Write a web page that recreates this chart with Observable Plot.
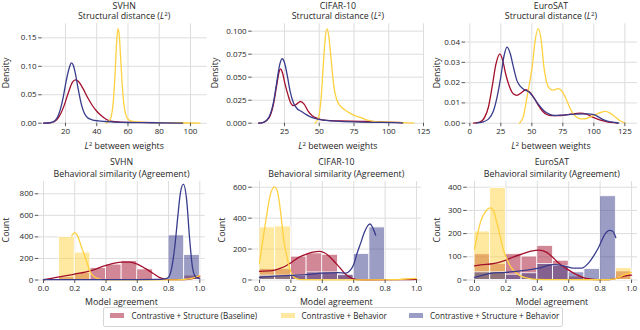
<!DOCTYPE html>
<html><head><meta charset="utf-8">
<script src="https://cdn.jsdelivr.net/npm/d3@7"></script>
<script src="https://cdn.jsdelivr.net/npm/@observablehq/plot@0.6"></script>
<style>
body{margin:0;background:#fff;}
#c{position:relative;width:640px;height:330px;font-family:'Open Sans',sans-serif;color:#262626;overflow:hidden;background:#fff}
.t{position:absolute;font-size:8.8px;white-space:nowrap;transform:translate(-50%,-50%);line-height:1}
.r{position:absolute;font-size:8.8px;white-space:nowrap;transform:translate(-50%,-50%) rotate(-90deg);line-height:1}
.p{position:absolute}
.sup{font-size:70%;vertical-align:3px}
#leg{position:absolute;left:103px;top:307px;width:460px;height:20px;border:1px solid #d6d6d6;border-radius:2px;box-sizing:border-box}
.lp{position:absolute;width:14px;height:5px}
.lt{position:absolute;font-size:8.1px;white-space:nowrap;line-height:1;transform:translateY(-50%)}
</style></head><body><div id="c"></div><script>
// ---------- colours ----------
const seriesNames = ["Contrastive + Structure (Baseline)", "Contrastive + Behavior", "Contrastive + Structure + Behavior"];
const seriesColors = ["#a30f2c", "#ffd140", "#393c8c"];

// ---------- top row: L2 distance KDE curves [L2, density] ----------
const svhnL2Base = [[6,0],[10,0.0005],[13,0.003],[16,0.012],[19,0.03],[22,0.055],[24.5,0.072],[26.4,0.076],[28,0.074],[31,0.062],[34,0.046],[37,0.032],[40,0.021],[43,0.013],[46,0.007],[50,0.003],[55,0.002],[65,0.0013],[80,0.001],[95,0.0004]];
const svhnL2Behav = [[46,0],[48.5,0.006],[50.5,0.035],[51.8,0.09],[52.8,0.145],[53.6,0.166],[54.4,0.155],[55.3,0.115],[56.5,0.06],[58,0.022],[60,0.007],[63,0.003],[70,0.0015],[80,0.001],[95,0.0008],[106,0.0001]];
const svhnL2Struct = [[6,0],[10,0.0008],[13,0.004],[16,0.018],[18.5,0.045],[20.5,0.075],[22.5,0.098],[23.8,0.106],[25,0.102],[26.5,0.085],[28,0.062],[30,0.035],[32,0.018],[34,0.01],[37,0.006],[41,0.004],[46,0.003],[52,0.002],[60,0.0012],[75,0.0008],[95,0.0003]];

const cifarL2Base = [[6.5,0],[10,0.001],[14,0.006],[17,0.02],[19.5,0.042],[21.2,0.056],[22.2,0.059],[23.5,0.055],[25.5,0.042],[27.5,0.031],[29.5,0.022],[31.5,0.019],[34,0.021],[36.5,0.0236],[39,0.021],[42,0.013],[45,0.008],[49,0.005],[55,0.003],[65,0.0025],[80,0.002],[95,0.0015],[110,0.0005]];
const cifarL2Behav = [[47,0],[49.5,0.006],[51.5,0.03],[53,0.065],[54.5,0.095],[55.7,0.1025],[57,0.093],[58.5,0.07],[60.5,0.04],[62.5,0.026],[65,0.019],[68,0.015],[72,0.011],[76,0.008],[80,0.006],[84,0.0035],[90,0.0018],[100,0.0012],[110,0.0006],[118,0.0001]];
const cifarL2Struct = [[6.5,0],[10,0.001],[14,0.007],[17,0.022],[19.5,0.045],[21.5,0.063],[23.3,0.07],[25,0.066],[27,0.052],[29,0.035],[31.5,0.022],[34,0.016],[37,0.013],[41,0.009],[45,0.006],[49,0.0045],[55,0.003],[65,0.002],[80,0.0012],[95,0.0008],[110,0.0003]];

const euroL2Base = [[3,0],[8,0.0005],[12,0.003],[15,0.008],[18,0.018],[21,0.029],[24.2,0.0342],[26.5,0.031],[29,0.024],[32,0.018],[35,0.0145],[38,0.0137],[41.5,0.015],[45,0.0165],[48,0.0155],[51.5,0.0128],[55,0.009],[58.5,0.006],[62,0.0043],[66,0.0037],[73,0.0038],[80,0.0043],[89,0.005],[94,0.0045],[99,0.003],[104,0.0018],[110,0.0008],[119,0.0001]];
const euroL2Behav = [[40,0],[43,0.003],[46,0.0125],[48.5,0.021],[50.5,0.029],[52.5,0.04],[55.1,0.0466],[57.5,0.041],[59.7,0.028],[62,0.02],[64.5,0.017],[67.5,0.0163],[71,0.017],[74,0.016],[77,0.0128],[80,0.0085],[83,0.005],[86,0.003],[89,0.0021],[93,0.0022],[97,0.003],[101,0.0042],[105,0.0052],[109.5,0.0058],[113,0.005],[117,0.0032],[121,0.0012],[125,0.0002]];
const euroL2Struct = [[5,0],[10,0.0005],[15,0.002],[19,0.006],[22,0.013],[25,0.023],[27.5,0.033],[30,0.0375],[32.5,0.0345],[35,0.028],[38,0.021],[41,0.018],[44,0.0165],[47.5,0.0155],[51,0.013],[55,0.0095],[59.5,0.0063],[64,0.0045],[68,0.0038],[75,0.004],[85,0.0045],[95,0.0046],[100,0.0042],[104,0.003],[108,0.0016],[114,0.0006],[120,0.0001]];

// ---------- bottom row: agreement histograms (bins of 0.1) ----------
const agreementBinEdges = [0,0.1,0.2,0.3,0.4,0.5,0.6,0.7,0.8,0.9,1.0];
const svhnAgrBase   = [0, 26, 65, 110, 143, 175, 98, 10, 0, 41];
const svhnAgrBehav  = [0, 400, 254, 0, 0, 0, 0, 0, 0, 10];
const svhnAgrStruct = [0, 0, 0, 0, 0, 0, 0, 0, 414, 232];
const cifarAgrBase   = [71, 71, 151, 172, 163, 30, 0, 0, 0, 5];
const cifarAgrBehav  = [340, 346, 0, 0, 0, 0, 0, 0, 0, 11];
const cifarAgrStruct = [28, 28, 28, 49, 49, 34, 168, 340, 0, 0];
const euroAgrBase   = [111, 69, 111, 101, 147, 83, 15, 0, 0, 37];
const euroAgrBehav  = [209, 397, 0, 0, 0, 0, 0, 0, 0, 51];
const euroAgrStruct = [33, 33, 23, 29, 69, 61, 33, 47, 361, 0];

// KDE curves over the histograms [agreement, count]
const svhnKdeBase = [[0,2],[0.1,30],[0.2,55],[0.3,85],[0.4,135],[0.5,165],[0.55,166],[0.6,148],[0.65,108],[0.7,63],[0.74,25],[0.78,8],[0.82,3],[0.9,3],[0.95,12],[1.0,32]];
const svhnKdeBehav = [[0.18,410],[0.2,440],[0.22,405],[0.24,318],[0.27,198],[0.3,72],[0.33,26],[0.36,8],[0.4,2],[0.6,1],[0.85,2],[0.92,8],[0.96,20],[1.0,40]];
const svhnKdeStruct = [[0,3],[0.3,4],[0.6,4],[0.75,6],[0.78,10],[0.8,25],[0.82,110],[0.84,311],[0.86,600],[0.875,800],[0.895,889],[0.915,755],[0.935,380],[0.955,100],[0.975,25],[1.0,12]];
const cifarKdeBase = [[0,56],[0.08,60],[0.13,75],[0.17,92],[0.21,118],[0.25,146],[0.3,168],[0.34,180],[0.38,185],[0.41,178],[0.44,157],[0.48,115],[0.51,82],[0.54,45],[0.56,28],[0.59,10],[0.62,3],[0.7,1],[0.9,2],[1.0,5]];
const cifarKdeBehav = [[0,110],[0.02,250],[0.04,383],[0.07,555],[0.095,602],[0.11,585],[0.125,512],[0.14,390],[0.155,254],[0.175,150],[0.19,82],[0.21,30],[0.23,10],[0.26,3],[0.5,1],[0.85,2],[0.93,6],[1.0,10]];
const cifarKdeStruct = [[0,17],[0.1,25],[0.2,30],[0.3,35],[0.4,45],[0.5,48],[0.55,45],[0.58,65],[0.6,100],[0.62,168],[0.645,240],[0.665,300],[0.69,352],[0.705,362],[0.72,340],[0.74,290]];
const euroKdeBase = [[0,61],[0.05,66],[0.1,69],[0.15,75],[0.2,86],[0.25,100],[0.31,114],[0.36,124],[0.41,129],[0.46,119],[0.5,97],[0.52,83],[0.55,66],[0.59,47],[0.65,23],[0.71,7],[0.78,2],[0.86,2],[0.91,8],[0.95,16],[1.0,21]];
const euroKdeBehav = [[0,133],[0.02,200],[0.04,254],[0.07,295],[0.1,311],[0.12,300],[0.14,254],[0.16,200],[0.18,140],[0.2,100],[0.22,69],[0.25,40],[0.29,19],[0.33,9],[0.37,4],[0.5,2],[0.8,1],[0.86,2],[0.9,6],[0.92,11],[0.96,24],[1.0,33]];
const euroKdeStruct = [[0,11],[0.05,20],[0.1,29],[0.2,33],[0.31,40],[0.41,51],[0.5,66],[0.57,61],[0.63,51],[0.68,51],[0.73,76],[0.76,105],[0.79,140],[0.83,197],[0.86,214],[0.88,210],[0.9,183]];

// ---------- tick labels ----------
const svhnL2Ticks = [20,40,60,80,100];
const cifarL2Ticks = [25,50,75,100,125];
const euroL2Ticks = [0,25,50,75,100,125];
const svhnDensTicks = [0,0.05,0.10,0.15];
const cifarDensTicks = [0,0.025,0.05,0.075,0.1];
const euroDensTicks = [0,0.01,0.02,0.03,0.04];
const agrTicks = [0,0.2,0.4,0.6,0.8,1.0];
const svhnCountTicks = [0,200,400,600,800];
const cifarCountTicks = [0,200,400,600];
const euroCountTicks = [0,100,200,300,400];

const titles = ["SVHN","CIFAR-10","EuroSAT"];

// ---------- build ----------
const C = document.getElementById("c");
const FONT = "'Open Sans', sans-serif";

function panel(box, frame, xDomain, yDomain, xTicks, yTicks, xFmt, yFmt, marks) {
  const svg = Plot.plot({
    width: box.w, height: box.h,
    marginLeft: frame.x0 - box.x, marginRight: box.x + box.w - frame.x1,
    marginTop: frame.y0 - box.y, marginBottom: box.y + box.h - frame.y1,
    style: {fontFamily: FONT, fontSize: "8px", color: "#262626", background: "transparent", overflow: "visible"},
    x: {domain: xDomain, label: null},
    y: {domain: yDomain, label: null},
    marks: [
      Plot.gridX(xTicks, {stroke: "#dddddd", strokeOpacity: 1, strokeWidth: 1}),
      Plot.gridY(yTicks, {stroke: "#dddddd", strokeOpacity: 1, strokeWidth: 1}),
      ...marks,
      Plot.axisX(xTicks, {tickFormat: xFmt, tickSize: 3.5, tickPadding: 2, stroke: "#555", fill: "#262626", label: null}),
      Plot.axisY(yTicks, {tickFormat: yFmt, tickSize: 3.5, tickPadding: 2, stroke: "#555", fill: "#262626", label: null})
    ]
  });
  svg.classList.add("p");
  svg.style.left = box.x + "px";
  svg.style.top = box.y + "px";
  C.appendChild(svg);
}

function kde(data, i) {
  return Plot.line(data, {x: d => d[0], y: d => d[1], stroke: seriesColors[i], strokeWidth: 1.3, curve: "monotone-x"});
}
function bars(counts, i) {
  const rows = counts.map((c, k) => ({x1: agreementBinEdges[k], x2: agreementBinEdges[k+1], c})).filter(d => d.c > 0);
  return Plot.rectY(rows, {x1: "x1", x2: "x2", y: "c", fill: seriesColors[i], fillOpacity: 0.5, stroke: "white", strokeWidth: 0.8});
}
function addText(cls, x, y, html) {
  const d = document.createElement("div");
  d.className = cls; d.style.left = x + "px"; d.style.top = y + "px"; d.innerHTML = html;
  C.appendChild(d);
}

const f2 = d3.format(".2f"), f3 = d3.format(".3f"), f1 = d3.format(".1f"), f0 = d3.format("d");
const topBoxes = [{x:0,y:0,w:212,h:160},{x:212,y:0,w:214,h:160},{x:426,y:0,w:214,h:160}];
const topFrames = [{x0:41.7,x1:206.7,y0:23.3,y1:122.7},{x0:251.7,x1:424,y0:23.3,y1:122.7},{x0:465,x1:637,y0:23.3,y1:122.7}];
const botBoxes = [{x:0,y:160,w:212,h:145},{x:212,y:160,w:214,h:145},{x:426,y:160,w:214,h:145}];
const botFrames = [{x0:38.3,x1:204.7,y0:181,y1:279.5},{x0:251.7,x1:421,y0:181,y1:279.5},{x0:466.7,x1:637,y0:181,y1:279.5}];

panel(topBoxes[0], topFrames[0], [5.1,110.7], [0,0.1747], svhnL2Ticks, svhnDensTicks, f0, f2,
  [kde(svhnL2Base,0), kde(svhnL2Behav,1), kde(svhnL2Struct,2)]);
panel(topBoxes[1], topFrames[1], [1.8,125.7], [0,0.108], cifarL2Ticks, cifarDensTicks, f0, f3,
  [kde(cifarL2Base,0), kde(cifarL2Behav,1), kde(cifarL2Struct,2)]);
panel(topBoxes[2], topFrames[2], [-3.5,135.2], [0,0.049], euroL2Ticks, euroDensTicks, f0, f2,
  [kde(euroL2Base,0), kde(euroL2Behav,1), kde(euroL2Struct,2)]);

panel(botBoxes[0], botFrames[0], [-0.03,1.0345], [0,914], agrTicks, svhnCountTicks, f1, f0,
  [bars(svhnAgrBase,0), bars(svhnAgrBehav,1), bars(svhnAgrStruct,2), kde(svhnKdeBase,0), kde(svhnKdeBehav,1), kde(svhnKdeStruct,2)]);
panel(botBoxes[1], botFrames[1], [-0.0465,1.0318], [0,637], agrTicks, cifarCountTicks, f1, f0,
  [bars(cifarAgrBase,0), bars(cifarAgrBehav,1), bars(cifarAgrStruct,2), kde(cifarKdeBase,0), kde(cifarKdeBehav,1), kde(cifarKdeStruct,2)]);
panel(botBoxes[2], botFrames[2], [-0.0465,1.038], [0,424.6], agrTicks, euroCountTicks, f1, f0,
  [bars(euroAgrBase,0), bars(euroAgrBehav,1), bars(euroAgrStruct,2), kde(euroKdeBase,0), kde(euroKdeBehav,1), kde(euroKdeStruct,2)]);

// titles and axis labels
const L2 = '<i>L</i><span class="sup">2</span>';
topFrames.forEach((f, i) => {
  const cx = (f.x0 + f.x1) / 2;
  addText("t", cx, 5.5, titles[i]);
  addText("t", cx, 16, "Structural distance (" + L2 + ")");
  addText("t", cx, 145.5, L2 + " between weights");
});
botFrames.forEach((f, i) => {
  const cx = (f.x0 + f.x1) / 2;
  addText("t", cx, 162, titles[i]);
  addText("t", cx, 174.3, "Behavioral similarity (Agreement)");
  addText("t", cx, 301.5, "Model agreement");
});
[5.5, 215, 437].forEach(x => addText("r", x, 73, "Density"));
[6, 221.7, 437].forEach(x => addText("r", x, 230, "Count"));

// legend
const leg = document.createElement("div"); leg.id = "leg"; C.appendChild(leg);
const patchX = [110, 281, 409], textX = [131.5, 301.5, 430];
seriesNames.forEach((name, i) => {
  const p = document.createElement("div"); p.className = "lp";
  p.style.left = patchX[i] + "px"; p.style.top = "313px";
  p.style.background = seriesColors[i]; p.style.opacity = 0.5;
  C.appendChild(p);
  addText("lt", textX[i], 316, name);
});
</script></body></html>
